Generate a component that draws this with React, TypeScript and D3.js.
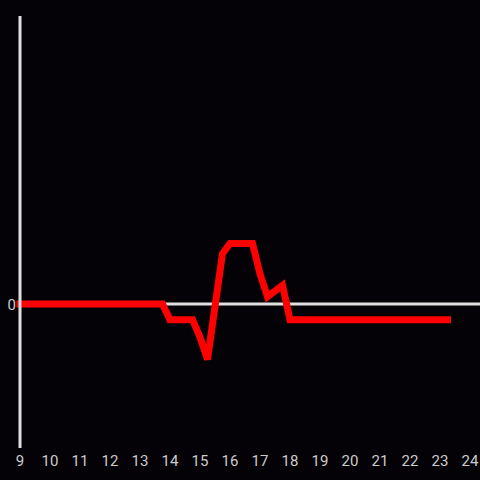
import React from "react";
import * as d3 from "d3";

const times: number[] = [9, 13.75, 14, 14.75, 15, 15.25, 15.75, 16, 16.75, 17, 17.25, 17.75, 18, 23.25];
const values: number[] = [0, 0, -0.11, -0.11, -0.23, -0.385, 0.35, 0.42, 0.42, 0.21, 0.05, 0.13, -0.11, -0.11];
const xTicks: number[] = [9, 10, 11, 12, 13, 14, 15, 16, 17, 18, 19, 20, 21, 22, 23, 24];
const yTicks: number[] = [0];

export default function App() {
  const W = 480, H = 480;
  const x = d3.scaleLinear().domain([9, 24]).range([20, 470]);
  const y = d3.scaleLinear().domain([-1, 2]).range([448, 16]);
  const data = times.map((t, i) => [t, values[i]] as [number, number]);
  const line = d3.line<[number, number]>().x(d => x(d[0])).y(d => y(d[1]));
  return (
    <svg width={W} height={H} style={{ position: "absolute", left: 0, top: 0, background: "#040206" }}
      fontFamily="Roboto, sans-serif">
      <rect width={W} height={H} fill="#040206" />
      <line x1={x(9)} x2={W} y1={y(0)} y2={y(0)} stroke="#e0e0e0" strokeWidth={3} />
      <path d={line(data) || ""} fill="none" stroke="#ff0000" strokeWidth={7}
        strokeLinecap="square" strokeLinejoin="miter" />
      <line x1={x(9)} x2={x(9)} y1={16} y2={448} stroke="#e0e0e0" strokeWidth={3} />
      {xTicks.map(t => (
        <text key={t} x={x(t)} y={466} textAnchor="middle" fill="#cccccc" fontSize={15}>{t}</text>
      ))}
      {yTicks.map(v => (
        <text key={v} x={16} y={y(v) + 5.5} textAnchor="end" fill="#cccccc" fontSize={15}>{v}</text>
      ))}
    </svg>
  );
}
